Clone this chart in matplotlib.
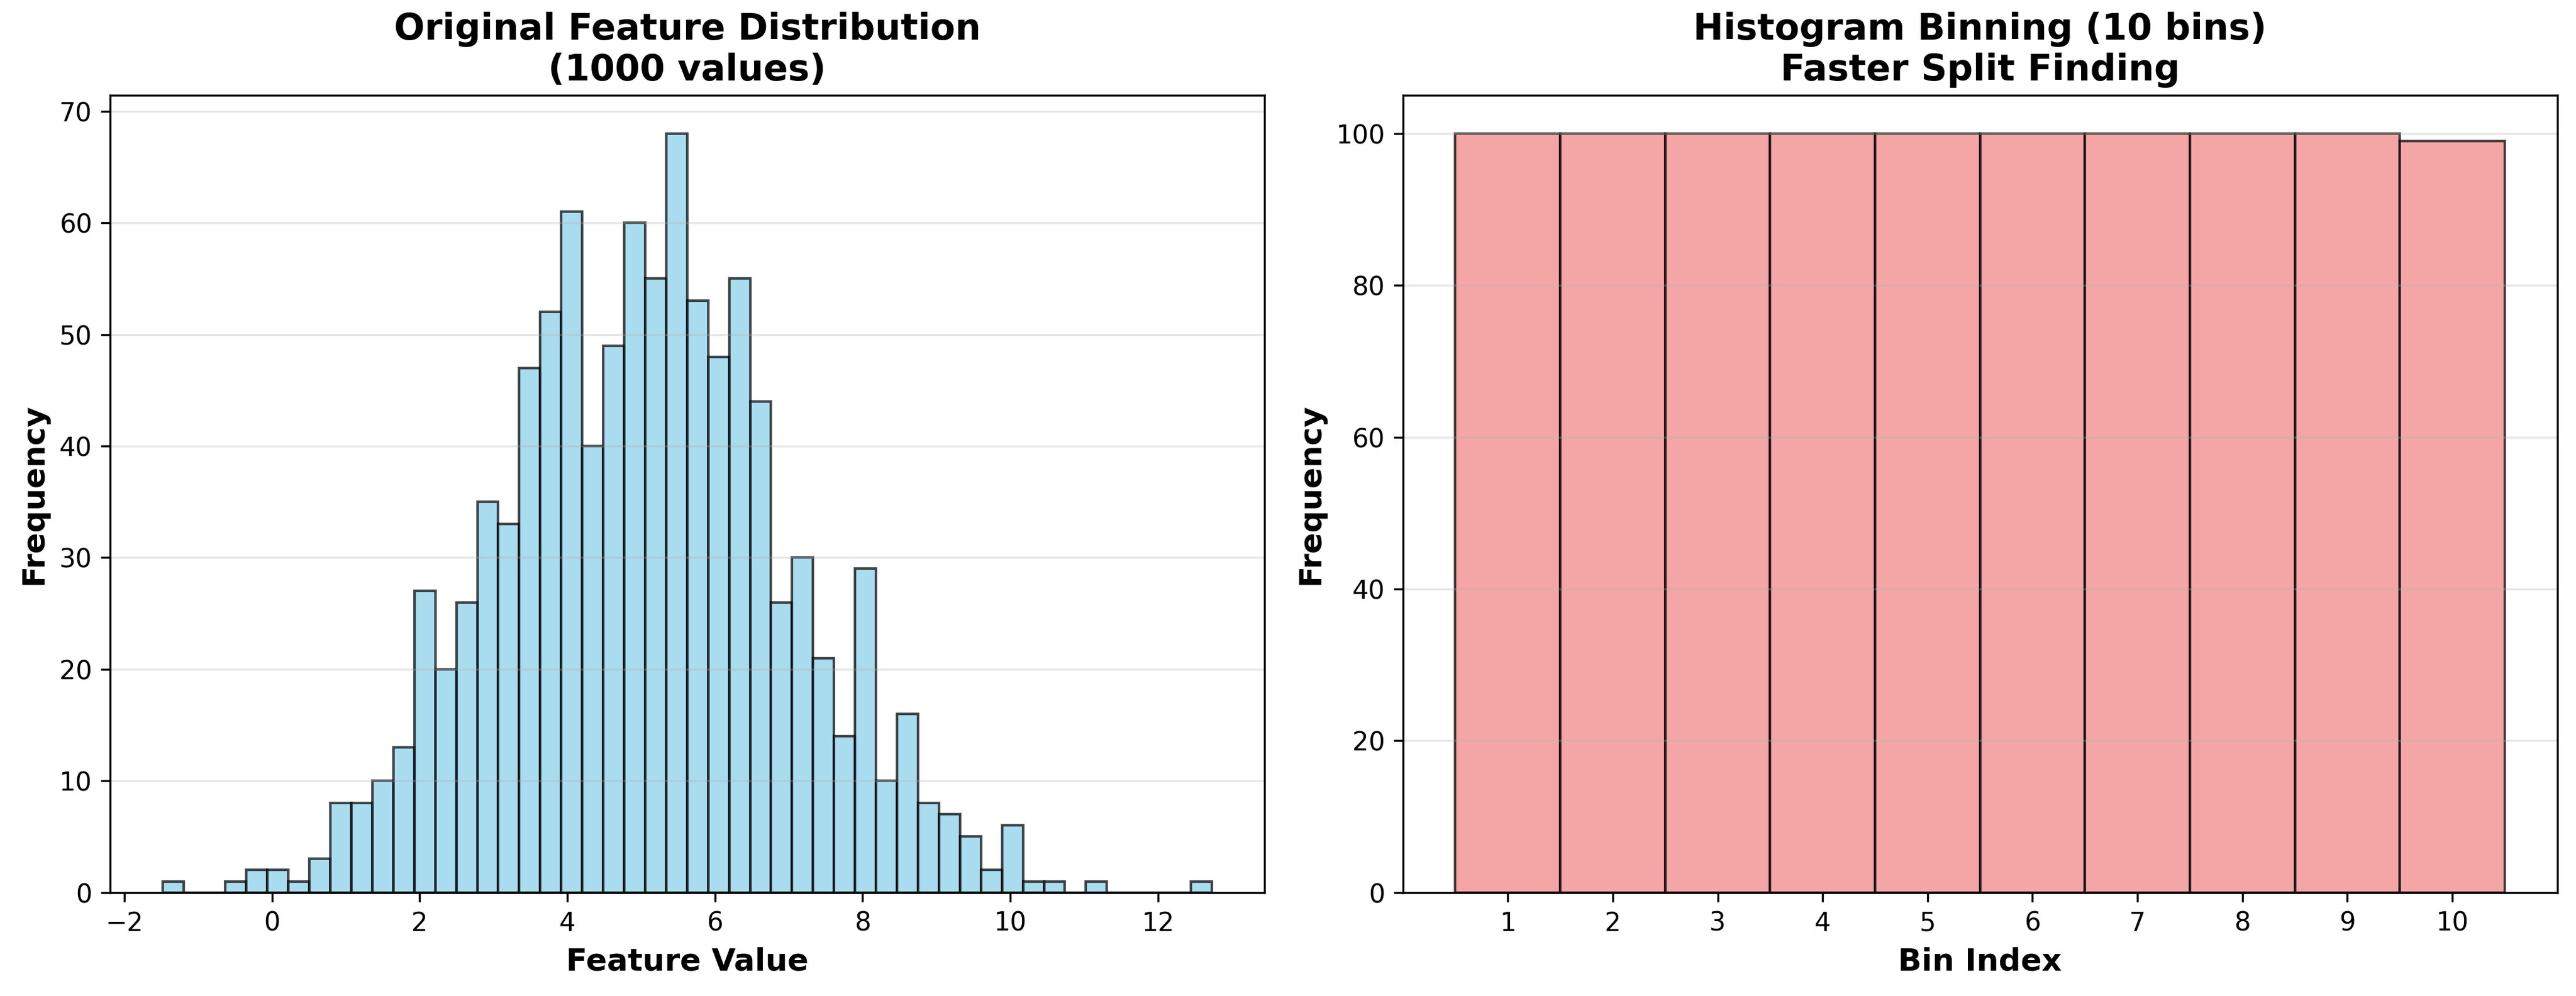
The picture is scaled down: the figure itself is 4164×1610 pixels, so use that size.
import numpy as np
import matplotlib
matplotlib.use("Agg")
import matplotlib.pyplot as plt

# left panel: 50 equal-width bins of the raw feature (counts)
feature_min = -1.485
feature_max = 12.73
feature_counts = [1, 0, 0, 1, 2, 2, 1, 3, 8, 8,
                  10, 13, 27, 20, 26, 35, 33, 47, 52, 61,
                  40, 49, 60, 55, 68, 53, 48, 55, 44, 26,
                  30, 21, 14, 29, 10, 16, 8, 7, 5, 2,
                  6, 1, 1, 0, 1, 0, 0, 0, 0, 1]

# right panel: 10 quantile bins
bin_index = [1, 2, 3, 4, 5, 6, 7, 8, 9, 10]
bin_counts = [100, 100, 100, 100, 100, 100, 100, 100, 100, 99]

fig, (ax1, ax2) = plt.subplots(1, 2, figsize=(13.88, 5.367))
fig.subplots_adjust(left=0.0427, right=0.9927, top=0.904, bottom=0.104, wspace=0.12)

edges = np.linspace(feature_min, feature_max, len(feature_counts) + 1)
centers = (edges[:-1] + edges[1:]) / 2
ax1.hist(centers, bins=edges, weights=feature_counts, color='skyblue',
         edgecolor='black', alpha=0.7)
ax1.set_title('Original Feature Distribution\n(1000 values)', fontsize=14, fontweight='bold')
ax1.set_xlabel('Feature Value', fontsize=12, fontweight='bold')
ax1.set_ylabel('Frequency', fontsize=12, fontweight='bold')
ax1.grid(True, axis='y', alpha=0.3)

ax2.bar(bin_index, bin_counts, width=1.0, color='lightcoral', edgecolor='black', alpha=0.7)
ax2.set_title('Histogram Binning (10 bins)\nFaster Split Finding', fontsize=14, fontweight='bold')
ax2.set_xlabel('Bin Index', fontsize=12, fontweight='bold')
ax2.set_ylabel('Frequency', fontsize=12, fontweight='bold')
ax2.set_xticks(bin_index)
ax2.grid(True, axis='y', alpha=0.3)

plt.savefig('out.png', dpi=300)
